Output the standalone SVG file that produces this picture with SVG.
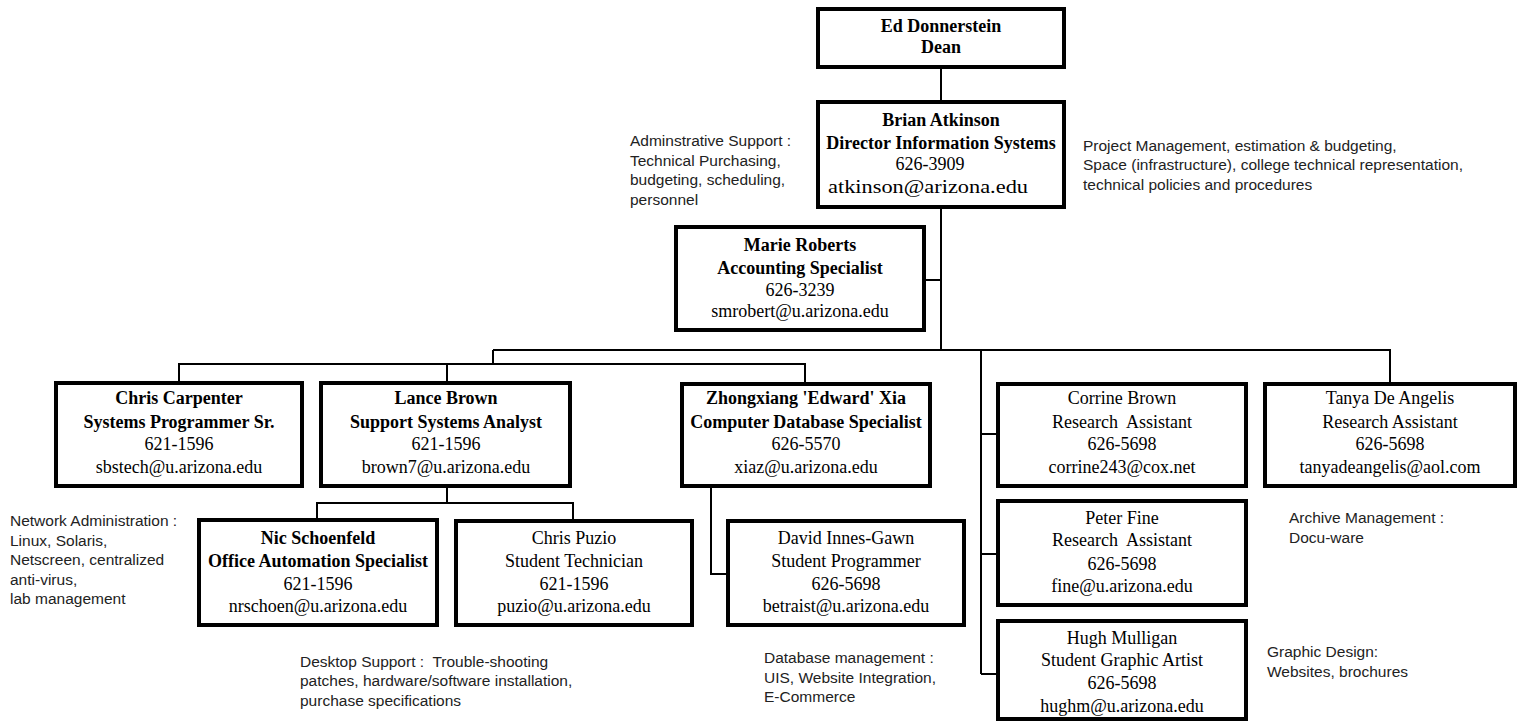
<svg xmlns="http://www.w3.org/2000/svg" width="1519" height="723" viewBox="0 0 1519 723">
<style>
  .box { fill: #fff; stroke: #000; stroke-width: 4; }
  .t { font-family: "Liberation Serif", "Times New Roman", serif; font-size: 18px; fill: #000; text-anchor: middle; white-space: pre; }
  .b { font-weight: bold; }
  .note { font-family: "Liberation Sans", Arial, sans-serif; font-size: 15.5px; fill: #222; white-space: pre; }
  .conn { fill: none; stroke: #000; stroke-width: 2; }
</style>
<rect width="1519" height="723" fill="#fff"/>
<g id="connectors">
  <path class="conn" d="M941 69V100"/>
  <path class="conn" d="M941 209V350"/>
  <path class="conn" d="M926 280H941"/>
  <path class="conn" d="M493 350H1390V382"/>
  <path class="conn" d="M493 350V364"/>
  <path class="conn" d="M179 381V364H805V382"/>
  <path class="conn" d="M447 364V381"/>
  <path class="conn" d="M981 350V674"/>
  <path class="conn" d="M981 434H996"/>
  <path class="conn" d="M981 554H996"/>
  <path class="conn" d="M981 674H996"/>
  <path class="conn" d="M447 488V503"/>
  <path class="conn" d="M317 518V503H573V519"/>
  <path class="conn" d="M711 488V574H726"/>
</g>
<g id="dean">
  <rect class="box" x="818" y="9" width="246" height="58"/>
  <text class="t b" x="941" y="32">Ed Donnerstein</text>
  <text class="t b" x="941" y="53">Dean</text>
</g>
<g id="atkinson">
  <rect class="box" x="818" y="102" width="246" height="105"/>
  <text class="t b" x="941" y="126">Brian Atkinson</text>
  <text class="t b" x="941" y="149">Director Information Systems</text>
  <text class="t" x="930" y="170">626-3909</text>
  <text class="t" x="928" y="193" textLength="200" lengthAdjust="spacingAndGlyphs">atkinson@arizona.edu</text>
</g>
<g id="roberts">
  <rect class="box" x="676" y="227" width="248" height="103"/>
  <text class="t b" x="800" y="251">Marie Roberts</text>
  <text class="t b" x="800" y="274">Accounting Specialist</text>
  <text class="t" x="800" y="296">626-3239</text>
  <text class="t" x="800" y="317">smrobert@u.arizona.edu</text>
</g>
<g id="carpenter">
  <rect class="box" x="56" y="383" width="246" height="103"/>
  <text class="t b" x="179" y="404">Chris Carpenter</text>
  <text class="t b" x="179" y="428">Systems Programmer Sr.</text>
  <text class="t" x="179" y="450">621-1596</text>
  <text class="t" x="179" y="473">sbstech@u.arizona.edu</text>
</g>
<g id="lbrown">
  <rect class="box" x="321" y="383" width="249" height="103"/>
  <text class="t b" x="446" y="404">Lance Brown</text>
  <text class="t b" x="446" y="428">Support Systems Analyst</text>
  <text class="t" x="446" y="450">621-1596</text>
  <text class="t" x="446" y="473">brown7@u.arizona.edu</text>
</g>
<g id="xia">
  <rect class="box" x="682" y="384" width="248" height="102"/>
  <text class="t b" x="806" y="404">Zhongxiang 'Edward' Xia</text>
  <text class="t b" x="806" y="428">Computer Database Specialist</text>
  <text class="t" x="806" y="450">626-5570</text>
  <text class="t" x="806" y="473">xiaz@u.arizona.edu</text>
</g>
<g id="cbrown">
  <rect class="box" x="998" y="384" width="248" height="102"/>
  <text class="t" x="1122" y="404">Corrine Brown</text>
  <text class="t" x="1122" y="428">Research  Assistant</text>
  <text class="t" x="1122" y="450">626-5698</text>
  <text class="t" x="1122" y="473">corrine243@cox.net</text>
</g>
<g id="deangelis">
  <rect class="box" x="1265" y="384" width="250" height="102"/>
  <text class="t" x="1390" y="404">Tanya De Angelis</text>
  <text class="t" x="1390" y="428">Research Assistant</text>
  <text class="t" x="1390" y="450">626-5698</text>
  <text class="t" x="1390" y="473">tanyadeangelis@aol.com</text>
</g>
<g id="schoenfeld">
  <rect class="box" x="199" y="520" width="238" height="105"/>
  <text class="t b" x="318" y="544">Nic Schoenfeld</text>
  <text class="t b" x="318" y="567">Office Automation Specialist</text>
  <text class="t" x="318" y="590">621-1596</text>
  <text class="t" x="318" y="612">nrschoen@u.arizona.edu</text>
</g>
<g id="puzio">
  <rect class="box" x="456" y="521" width="236" height="104"/>
  <text class="t" x="574" y="544">Chris Puzio</text>
  <text class="t" x="574" y="567">Student Technician</text>
  <text class="t" x="574" y="590">621-1596</text>
  <text class="t" x="574" y="612">puzio@u.arizona.edu</text>
</g>
<g id="innes-gawn">
  <rect class="box" x="728" y="521" width="236" height="104"/>
  <text class="t" x="846" y="544">David Innes-Gawn</text>
  <text class="t" x="846" y="567">Student Programmer</text>
  <text class="t" x="846" y="590">626-5698</text>
  <text class="t" x="846" y="612">betraist@u.arizona.edu</text>
</g>
<g id="fine">
  <rect class="box" x="998" y="501" width="248" height="104"/>
  <text class="t" x="1122" y="524">Peter Fine</text>
  <text class="t" x="1122" y="546">Research  Assistant</text>
  <text class="t" x="1122" y="570">626-5698</text>
  <text class="t" x="1122" y="592">fine@u.arizona.edu</text>
</g>
<g id="mulligan">
  <rect class="box" x="998" y="621" width="248" height="98"/>
  <text class="t" x="1122" y="644">Hugh Mulligan</text>
  <text class="t" x="1122" y="666">Student Graphic Artist</text>
  <text class="t" x="1122" y="689">626-5698</text>
  <text class="t" x="1122" y="712">hughm@u.arizona.edu</text>
</g>
<g id="notes">
  <text class="note" x="630" y="146">Adminstrative Support :</text>
  <text class="note" x="630" y="165.5">Technical Purchasing,</text>
  <text class="note" x="630" y="185">budgeting, scheduling,</text>
  <text class="note" x="630" y="204.5">personnel</text>
  <text class="note" x="1083" y="150.5">Project Management, estimation &amp; budgeting,</text>
  <text class="note" x="1083" y="170">Space (infrastructure), college technical representation,</text>
  <text class="note" x="1083" y="189.5">technical policies and procedures</text>
  <text class="note" x="10" y="526">Network Administration :</text>
  <text class="note" x="10" y="545.5">Linux, Solaris,</text>
  <text class="note" x="10" y="565">Netscreen, centralized</text>
  <text class="note" x="10" y="584.5">anti-virus,</text>
  <text class="note" x="10" y="604">lab management</text>
  <text class="note" x="300" y="667">Desktop Support :  Trouble-shooting</text>
  <text class="note" x="300" y="686">patches, hardware/software installation,</text>
  <text class="note" x="300" y="705.5">purchase specifications</text>
  <text class="note" x="764" y="663">Database management :</text>
  <text class="note" x="764" y="682.5">UIS, Website Integration,</text>
  <text class="note" x="764" y="702">E-Commerce</text>
  <text class="note" x="1289" y="523">Archive Management :</text>
  <text class="note" x="1289" y="542.5">Docu-ware</text>
  <text class="note" x="1267" y="657">Graphic Design:</text>
  <text class="note" x="1267" y="676.5">Websites, brochures</text>
</g>
</svg>
